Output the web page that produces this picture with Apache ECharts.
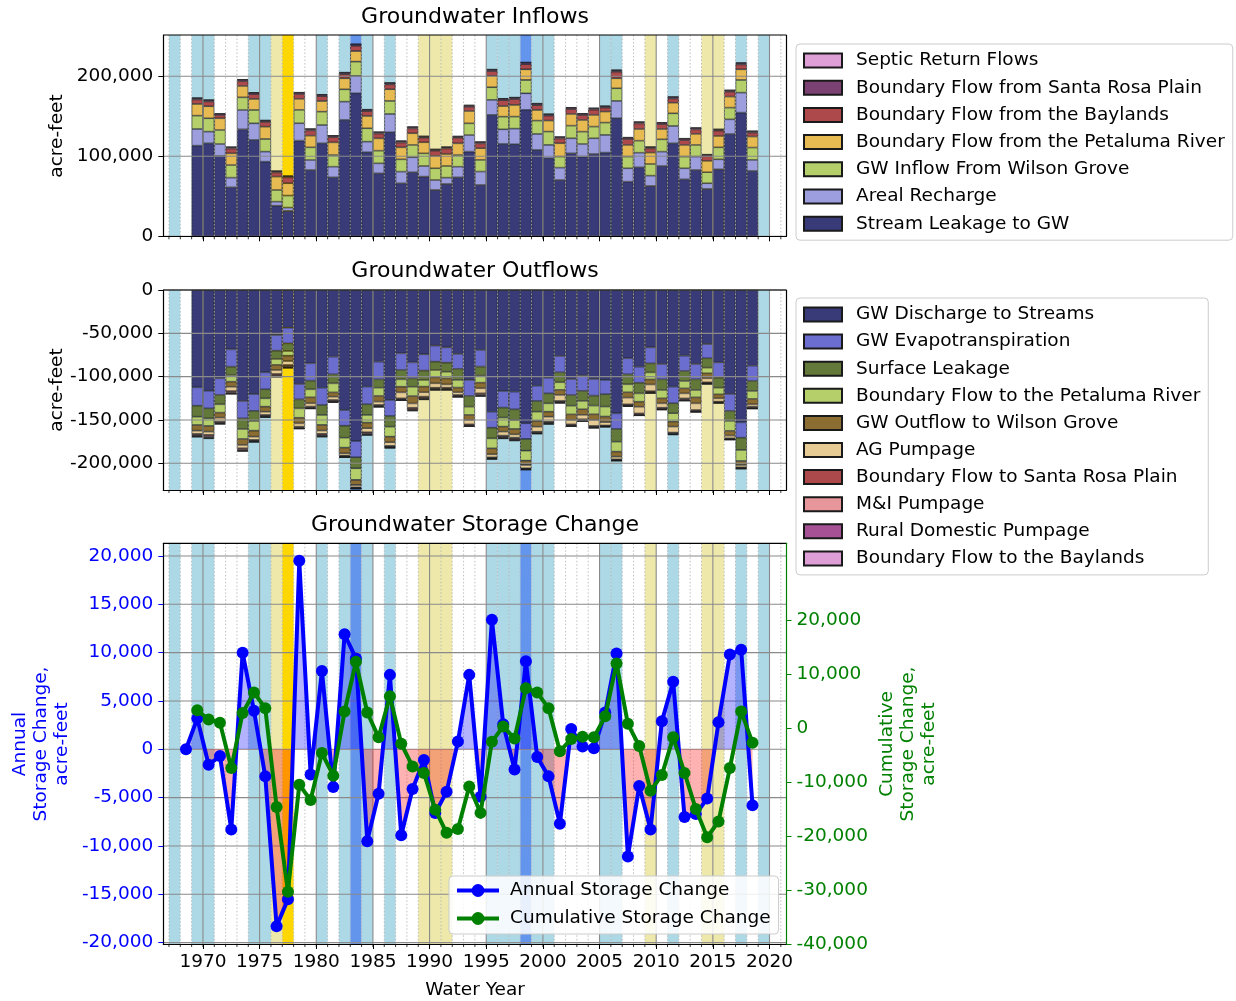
<!DOCTYPE html>
<html>
<head>
<meta charset="utf-8">
<title>Groundwater Budget</title>
<script src="https://cdn.jsdelivr.net/npm/echarts@6.0.0/dist/echarts.min.js"></script>
<style>
html,body{margin:0;padding:0;background:#ffffff;}
#chart{width:1236px;height:1001px;}
</style>
</head>
<body>
<div id="chart"></div>
<script>
// ================= DATA =================
// Bars occupy the slot [year, year+1]
const years = [1969,1970,1971,1972,1973,1974,1975,1976,1977,1978,
               1979,1980,1981,1982,1983,1984,1985,1986,1987,1988,
               1989,1990,1991,1992,1993,1994,1995,1996,1997,1998,
               1999,2000,2001,2002,2003,2004,2005,2006,2007,2008,
               2009,2010,2011,2012,2013,2014,2015,2016,2017,2018];

// ---- Inflows (acre-feet) ----
const streamLeakage = [113300,116200,100400,61200,133700,120400,93300,38300,31700,119600,
                       82900,116200,73700,145400,178700,105000,78700,130000,66200,80000,
                       74600,57900,65400,73700,105800,64200,151700,115400,115000,157900,
                       107900,97500,70400,103700,99600,102900,104600,147500,68300,86200,
                       62900,87900,116200,71200,82900,59200,83700,127900,154600,81700];
const arealRecharge = [20800,14600,15000,12100,24200,20800,12500,5000,4200,21700,
                       12500,22900,13300,22900,21700,13300,12500,22900,14600,18800,
                       13300,12500,7900,13300,20800,16700,18800,18300,19600,20800,
                       20000,16700,15400,18800,15800,19600,22100,21700,16700,18300,
                       12900,17900,21700,13800,16700,7100,12500,18300,25000,13800];
const wilsonGroveIn = [16700,16700,17500,15800,15800,16700,15800,14600,15000,16700,
                       15800,16700,14600,15400,17900,16700,15800,16300,15400,15400,
                       15800,14600,14600,14600,14600,14600,15800,15800,15000,16700,
                       16700,16700,13800,15800,15400,14600,15400,15800,14600,15000,
                       14600,15400,15800,14600,14600,13800,15000,14600,15800,15400];
const petalumaIn = [14600,15000,14600,14600,14200,13800,15400,16700,15400,13800,
                    14600,13300,15800,13800,13300,15400,15400,14600,15000,14600,
                    13800,15400,15000,14600,15400,14600,14200,13300,14600,13300,
                    13300,13800,16700,14600,14600,14600,13800,12500,14600,14600,
                    14200,12900,13300,14600,13800,14200,14200,13800,13300,13800];
const baylandsIn = [5600,6000,4000,6000,6000,6000,6000,5200,7300,6000,
                    6500,6000,6500,5200,6500,6000,6000,6000,6000,6000,
                    5600,6500,6900,6900,5200,6000,6000,7300,7300,6500,
                    6000,6000,6000,6000,6000,6500,4800,8100,7300,6900,
                    5200,6000,5200,6000,5600,6000,6500,6000,6000,4800];
const santaRosaIn = [1800,1800,1700,1800,1900,1800,1800,1700,1700,1800,
                     1800,1900,1800,1900,2000,1900,1800,1900,1800,1800,
                     1800,1700,1700,1700,1800,1800,1900,1900,1900,2000,
                     1900,1900,1800,1800,1800,1800,1900,2000,1800,1800,
                     1700,1800,1900,1800,1800,1700,1700,1800,1900,1800];
const septicIn = [400,400,400,400,400,400,400,400,400,400,
                  500,500,500,500,500,500,500,500,500,500,
                  500,500,500,500,500,500,500,500,500,500,
                  600,600,600,600,600,600,600,600,600,600,
                  600,600,600,600,600,600,600,600,600,600];

// ---- Outflows (acre-feet, negative) ----
const dischargeStreams = [-112300,-116200,-101900,-68500,-128100,-120000,-95000,-51900,-43500,-108500,
                          -84600,-112700,-76900,-138500,-174200,-111500,-82700,-126900,-73100,-83500,
                          -74200,-64200,-66200,-73800,-103800,-69200,-140400,-116500,-117300,-153800,
                          -110400,-101200,-76200,-102700,-98800,-102700,-103800,-142300,-78800,-88500,
                          -66200,-85400,-111500,-75800,-85400,-62300,-83500,-120000,-152700,-87300];
const gwET = [-21200,-20400,-19200,-20000,-20000,-19600,-19600,-18100,-18100,-17700,
              -20000,-20000,-20400,-18100,-18800,-20400,-20400,-18500,-19200,-18500,
              -18800,-18500,-17700,-17300,-18500,-19200,-18500,-19200,-20400,-18100,
              -17700,-18100,-18800,-18500,-17700,-19200,-16500,-18100,-18500,-18500,
              -18500,-17700,-19200,-17700,-17700,-16500,-17700,-19600,-17700,-17700];
const surfaceLeakage = [-12700,-11500,-10800,-9600,-12300,-11500,-10400,-9600,-8800,-10400,
                        -10000,-11500,-10400,-13800,-12700,-12300,-9600,-12300,-10800,-9600,
                        -10800,-9600,-10400,-12700,-12300,-10400,-12300,-11500,-12300,-13500,
                        -12300,-11500,-11500,-12300,-11500,-11500,-14200,-14600,-11500,-12300,
                        -10400,-12300,-11500,-11500,-12300,-10800,-11500,-11500,-14200,-11500];
const petalumaOut = [-9600,-8800,-9600,-7700,-11500,-11200,-9600,-6900,-5400,-10800,
                     -9200,-11500,-10400,-11500,-13500,-8800,-9600,-11500,-8500,-10800,
                     -7700,-8500,-7700,-8800,-9600,-8100,-11500,-10400,-10400,-11500,
                     -10800,-9600,-8800,-10000,-9600,-10000,-11500,-11500,-9200,-9600,
                     -8100,-9600,-9600,-8500,-8500,-6500,-7700,-11500,-12700,-9200];
const wilsonGroveOut = [-6500,-6500,-5800,-5800,-6900,-6900,-5800,-5800,-6200,-6500,
                        -6900,-6500,-5000,-6500,-5800,-6500,-6500,-6500,-6500,-8500,
                        -6500,-6900,-6900,-5400,-5800,-6500,-6900,-5800,-6200,-5000,
                        -6500,-5800,-5800,-6500,-6500,-6500,-6500,-5800,-6200,-5800,
                        -5800,-5800,-5800,-5800,-6900,-5800,-4600,-5400,-4600,-6200];
const agPumpage = [-3800,-3800,-4600,-5000,-3800,-3800,-3800,-4600,-4600,-3800,
                   -3800,-3800,-3800,-2700,-2700,-4600,-3800,-4200,-6900,-5000,
                   -5000,-5000,-3800,-3100,-5000,-5800,-3500,-4600,-3800,-3800,
                   -5800,-5800,-6900,-5000,-5000,-6900,-3800,-3100,-7700,-7700,
                   -7700,-5000,-6900,-5800,-7700,-4600,-3800,-3100,-2700,-2700];
const santaRosaOut = [-1500,-1800,-1200,-1500,-1500,-1100,-1200,-1500,-1500,-1100,
                      -1100,-1500,-1200,-900,-800,-1500,-1100,-1100,-1100,-1500,
                      -1500,-1200,-1200,-1100,-1100,-1500,-900,-1500,-1500,-800,
                      -1100,-1200,-1100,-1100,-1100,-1100,-800,-800,-1100,-1100,
                      -1100,-1100,-1100,-1200,-1100,-900,-800,-800,-800,-1100];
const mniPumpage = [-1100,-1400,-900,-1100,-1100,-800,-900,-1100,-1100,-800,
                    -800,-1100,-900,-700,-600,-1100,-800,-800,-800,-1100,
                    -1100,-900,-900,-800,-800,-1100,-700,-1100,-1100,-600,
                    -800,-900,-800,-800,-800,-800,-600,-600,-800,-800,
                    -800,-800,-800,-900,-800,-700,-600,-600,-600,-800];
const ruralDomestic = [-600,-700,-500,-600,-600,-400,-500,-600,-600,-400,
                       -400,-600,-500,-350,-250,-600,-400,-400,-400,-600,
                       -600,-500,-500,-400,-400,-600,-350,-600,-600,-250,
                       -400,-500,-400,-400,-400,-400,-250,-250,-400,-400,
                       -400,-400,-400,-500,-400,-350,-250,-250,-250,-400];
const baylandsOut = [-600,-700,-500,-600,-600,-400,-500,-600,-600,-400,
                     -400,-600,-500,-350,-250,-600,-400,-400,-400,-600,
                     -600,-500,-500,-400,-400,-600,-350,-600,-600,-250,
                     -400,-500,-400,-400,-400,-400,-250,-250,-400,-400,
                     -400,-400,-400,-500,-400,-350,-250,-250,-250,-400];

// ---- Storage change (acre-feet), points at slot centres ----
const storageYears = [1968,1969,1970,1971,1972,1973,1974,1975,1976,1977,1978,
                      1979,1980,1981,1982,1983,1984,1985,1986,1987,1988,
                      1989,1990,1991,1992,1993,1994,1995,1996,1997,1998,
                      1999,2000,2001,2002,2003,2004,2005,2006,2007,2008,
                      2009,2010,2011,2012,2013,2014,2015,2016,2017,2018];
const annualChange = [0,3200,-1600,-700,-8300,10000,4000,-2800,-18300,-15500,19500,
                      -2600,8100,-3900,11900,9400,-9500,-4600,7700,-8900,-4100,
                      -1100,-6600,-4400,800,7700,-4900,13400,2600,-2100,9100,
                      -800,-2800,-7700,2100,300,100,3800,9900,-11100,-3800,
                      -8300,2900,7000,-7000,-6700,-5100,2800,9800,10300,-5800];
const cumulativeChange = [null,3300,1600,1000,-7400,2800,6600,3700,-14600,-30300,-10500,
                          -13300,-4600,-8800,3100,12300,2900,-1700,5900,-2900,-7100,
                          -8300,-15100,-19400,-18700,-10800,-15700,-2500,300,-1900,7400,
                          6600,3700,-4300,-2000,-1600,-1700,2200,12000,800,-3300,
                          -11600,-8700,-1700,-8300,-15000,-20200,-17300,-7400,3100,-2700];

// ---- Water-year type background bands, slot [year, year+1] ----
const bandYears = [1967,1968,1969,1970,1971,1972,1973,1974,1975,1976,1977,1978,1979,1980,
                   1981,1982,1983,1984,1985,1986,1987,1988,1989,1990,1991,1992,1993,1994,
                   1995,1996,1997,1998,1999,2000,2001,2002,2003,2004,2005,2006,2007,2008,
                   2009,2010,2011,2012,2013,2014,2015,2016,2017,2018,2019];
const bandTypes = ['W','N','W','W','N','N','N','W','W','D','C','N','N','W',
                   'N','W','VW','W','N','W','N','N','D','D','D','N','N','N',
                   'W','W','W','VW','W','W','N','N','N','N','W','W','N','N',
                   'D','N','W','N','N','D','D','N','W','N','W'];

// ---- Tick labels ----
const yearMajorTicks = [1970,1975,1980,1985,1990,1995,2000,2005,2010,2015,2020];
const yearMinorTicks = [1967,1968,1969,1970,1971,1972,1973,1974,1975,1976,1977,1978,1979,1980,
                        1981,1982,1983,1984,1985,1986,1987,1988,1989,1990,1991,1992,1993,1994,
                        1995,1996,1997,1998,1999,2000,2001,2002,2003,2004,2005,2006,2007,2008,
                        2009,2010,2011,2012,2013,2014,2015,2016,2017,2018,2019,2020,2021];
const inflowTicks = [0,100000,200000];
const outflowTicks = [0,-50000,-100000,-150000,-200000];
const annualTicks = [-20000,-15000,-10000,-5000,0,5000,10000,15000,20000];
const cumulativeTicks = [-40000,-30000,-20000,-10000,0,10000,20000];

// ================= STYLE / LAYOUT =================
const FONT = '"DejaVu Sans", "Liberation Sans", sans-serif';
const FS = 18.5;
const X_MIN = 1966.5, X_MAX = 2021.5;
const GRID_LEFT = 163.3, GRID_WIDTH = 623.2;
const gridBoxes = [
  {left: GRID_LEFT, top: 35, width: GRID_WIDTH, height: 201.3},
  {left: GRID_LEFT, top: 290, width: GRID_WIDTH, height: 200},
  {left: GRID_LEFT, top: 543.3, width: GRID_WIDTH, height: 400.7}
];
const yRanges = [[0, 251600], [-230800, 0], [-20140, 21310], [-40000, 34260]];
const slotPx = GRID_WIDTH / (X_MAX - X_MIN);
// hidden category grids that hold exactly the bar slots
const barGridLeft = GRID_LEFT + (years[0] - X_MIN) * slotPx;
const barGridWidth = years.length * slotPx;
const bandColors = {W: '#add8e6', VW: '#6495ed', D: '#eee8aa', C: '#ffd700', N: null};
const fmt = v => Number(v).toLocaleString('en-US');

const inflowDefs = [
  ['Stream Leakage to GW', streamLeakage, '#393b79'],
  ['Areal Recharge', arealRecharge, '#9c9ede'],
  ['GW Inflow From Wilson Grove', wilsonGroveIn, '#b5cf6b'],
  ['Boundary Flow from the Petaluma River', petalumaIn, '#e7ba52'],
  ['Boundary Flow from the Baylands', baylandsIn, '#ad494a'],
  ['Boundary Flow from Santa Rosa Plain', santaRosaIn, '#7b4173'],
  ['Septic Return Flows', septicIn, '#de9ed6']
];
const outflowDefs = [
  ['GW Discharge to Streams', dischargeStreams, '#393b79'],
  ['GW Evapotranspiration', gwET, '#6b6ecf'],
  ['Surface Leakage', surfaceLeakage, '#637939'],
  ['Boundary Flow to the Petaluma River', petalumaOut, '#b5cf6b'],
  ['GW Outflow to Wilson Grove', wilsonGroveOut, '#8c6d31'],
  ['AG Pumpage', agPumpage, '#e7cb94'],
  ['Boundary Flow to Santa Rosa Plain', santaRosaOut, '#ad494a'],
  ['M&I Pumpage', mniPumpage, '#e7969c'],
  ['Rural Domestic Pumpage', ruralDomestic, '#a55194'],
  ['Boundary Flow to the Baylands', baylandsOut, '#de9ed6']
];

function bandSeries(gridIdx, yIdx) {
  return {
    type: 'custom', xAxisIndex: gridIdx, yAxisIndex: yIdx, z: 1, silent: true,
    data: bandYears.map(y => [y, 0]),
    renderItem: function (params, api) {
      const c = bandColors[bandTypes[params.dataIndex]];
      if (!c) return null;
      const cs = params.coordSys;
      const x1 = api.coord([api.value(0), 0])[0];
      const x2 = api.coord([api.value(0) + 1, 0])[0];
      return {type: 'rect', shape: {x: x1, y: cs.y, width: x2 - x1, height: cs.height},
              style: {fill: c}};
    }
  };
}

function gridSeries(gridIdx, yIdx, yTicks, rightBorder) {
  return {
    type: 'custom', xAxisIndex: gridIdx, yAxisIndex: yIdx, z: 3, silent: true,
    data: [[1990, 0]],
    renderItem: function (params, api) {
      const cs = params.coordSys;
      const top = cs.y, bot = cs.y + cs.height, left = cs.x, right = cs.x + cs.width;
      const ch = [];
      yearMinorTicks.forEach(yr => {
        const x = api.coord([yr, 0])[0];
        ch.push({type: 'line', shape: {x1: x, y1: bot, x2: x, y2: bot + 3},
                 style: {stroke: '#000', lineWidth: 0.8}});
        if (yearMajorTicks.indexOf(yr) >= 0) return;
        ch.push({type: 'line', shape: {x1: x, y1: top, x2: x, y2: bot},
                 style: {stroke: '#b0b0b0', lineWidth: 0.8, lineDash: [1.5, 2]}});
      });
      yearMajorTicks.forEach(yr => {
        const x = api.coord([yr, 0])[0];
        ch.push({type: 'line', shape: {x1: x, y1: top, x2: x, y2: bot},
                 style: {stroke: '#8a8a8a', lineWidth: 1.1}});
      });
      yTicks.forEach(v => {
        const y = api.coord([1990, v])[1];
        ch.push({type: 'line', shape: {x1: left, y1: y, x2: right, y2: y},
                 style: {stroke: '#8a8a8a', lineWidth: 1.1}});
      });
      ch.push({type: 'line', shape: {x1: left, y1: top, x2: right, y2: top},
               style: {stroke: '#000', lineWidth: 1.2}});
      if (rightBorder) {
        ch.push({type: 'line', shape: {x1: right, y1: top, x2: right, y2: bot},
                 style: {stroke: '#000', lineWidth: 1.2}});
      }
      return {type: 'group', children: ch};
    }
  };
}

const series = [];
series.push(bandSeries(0, 0));
inflowDefs.forEach(d => series.push({
  type: 'bar', name: d[0], xAxisIndex: 3, yAxisIndex: 4, stack: 'inflow', z: 2,
  barWidth: '100%', barCategoryGap: 0,
  data: d[1],
  itemStyle: {color: d[2], borderColor: '#1a1a1a', borderWidth: 0.6}
}));
series.push(gridSeries(0, 0, inflowTicks, true));

series.push(bandSeries(1, 1));
outflowDefs.forEach(d => series.push({
  type: 'bar', name: d[0], xAxisIndex: 4, yAxisIndex: 5, stack: 'outflow', z: 2,
  barWidth: '100%', barCategoryGap: 0,
  data: d[1],
  itemStyle: {color: d[2], borderColor: '#1a1a1a', borderWidth: 0.6}
}));
series.push(gridSeries(1, 1, outflowTicks, true));

series.push(bandSeries(2, 2));
series.push(gridSeries(2, 2, annualTicks, false));

const g3 = gridBoxes[2];
const zeroY = g3.top + g3.height * (yRanges[2][1] - 0) / (yRanges[2][1] - yRanges[2][0]);
const fillPos = 'rgba(0,0,255,0.3)', fillNeg = 'rgba(255,0,0,0.3)';
series.push({
  type: 'line', name: 'Annual Storage Change', xAxisIndex: 2, yAxisIndex: 2, z: 4,
  data: storageYears.map((y, i) => [y + 0.5, annualChange[i]]),
  symbol: 'circle', symbolSize: 12, showAllSymbol: true,
  lineStyle: {color: '#0000ff', width: 4},
  itemStyle: {color: '#0000ff'},
  areaStyle: {origin: 'auto', opacity: 1, color: {
    type: 'linear', x: 0, y: zeroY - 1, x2: 0, y2: zeroY + 1, global: true,
    colorStops: [{offset: 0, color: fillPos}, {offset: 0.5, color: fillPos},
                 {offset: 0.5, color: fillNeg}, {offset: 1, color: fillNeg}]
  }}
});
series.push({
  type: 'line', name: 'Cumulative Storage Change', xAxisIndex: 2, yAxisIndex: 3, z: 5,
  data: storageYears.map((y, i) => [y + 0.5, cumulativeChange[i]]),
  symbol: 'circle', symbolSize: 12, showAllSymbol: true, connectNulls: false,
  lineStyle: {color: '#008000', width: 4},
  itemStyle: {color: '#008000'}
});

function xAxisDef(i) {
  return {
    type: 'value', gridIndex: i, min: X_MIN, max: X_MAX, z: 10,
    axisLine: {show: true, onZero: false, lineStyle: {color: '#000', width: 1.2}},
    axisTick: {show: true, customValues: yearMajorTicks, length: 5, lineStyle: {color: '#000', width: 1}},
    axisLabel: {show: i === 2, customValues: yearMajorTicks, formatter: v => String(v), margin: 9,
                color: '#000', fontSize: FS, fontFamily: FONT},
    splitLine: {show: false}, minorSplitLine: {show: false}
  };
}
function hiddenCatX(gridIdx) {
  return {type: 'category', gridIndex: gridIdx, data: years.map(String), boundaryGap: true, show: false};
}
function yAxisDef(gridIdx, range, ticks, color, pos, lineColor) {
  return {
    type: 'value', gridIndex: gridIdx, min: range[0], max: range[1], z: 10, position: pos,
    axisLine: {show: true, onZero: false, lineStyle: {color: lineColor, width: 1.2}},
    axisTick: {show: true, customValues: ticks, length: 5, lineStyle: {color: color, width: 1}},
    axisLabel: {customValues: ticks, formatter: fmt, margin: 10, color: color,
                fontSize: FS, fontFamily: FONT},
    splitLine: {show: false}
  };
}
function hiddenY(gridIdx, range) {
  return {type: 'value', gridIndex: gridIdx, min: range[0], max: range[1], show: false, splitLine: {show: false}};
}

const legendBase = {
  orient: 'vertical', itemWidth: 38, itemHeight: 14, z: 20, icon: 'rect',
  backgroundColor: 'rgba(255,255,255,0.85)', borderColor: '#cccccc', borderWidth: 1, borderRadius: 4,
  textStyle: {fontSize: FS, fontFamily: FONT, color: '#000', lineHeight: 21, padding: [0, 0, 0, 9]},
  selectedMode: false
};

const option = {
  animation: false,
  backgroundColor: '#ffffff',
  textStyle: {fontFamily: FONT},
  grid: gridBoxes.map(g => ({left: g.left, top: g.top, width: g.width, height: g.height, containLabel: false}))
    .concat([
      {left: barGridLeft, top: gridBoxes[0].top, width: barGridWidth, height: gridBoxes[0].height, containLabel: false},
      {left: barGridLeft, top: gridBoxes[1].top, width: barGridWidth, height: gridBoxes[1].height, containLabel: false}
    ]),
  xAxis: [xAxisDef(0), xAxisDef(1), xAxisDef(2), hiddenCatX(3), hiddenCatX(4)],
  yAxis: [
    yAxisDef(0, yRanges[0], inflowTicks, '#000', 'left', '#000'),
    yAxisDef(1, yRanges[1], outflowTicks, '#000', 'left', '#000'),
    yAxisDef(2, yRanges[2], annualTicks, '#0000ff', 'left', '#000'),
    yAxisDef(2, yRanges[3], cumulativeTicks, '#008000', 'right', '#008000'),
    hiddenY(3, yRanges[0]),
    hiddenY(4, yRanges[1])
  ],
  legend: [
    Object.assign({}, legendBase, {left: 796, top: 44, padding: [6, 8, 6, 7], itemGap: 6.2,
      data: inflowDefs.map(d => d[0]).reverse()}),
    Object.assign({}, legendBase, {left: 796, top: 298, padding: [6, 8, 6, 7], itemGap: 6.1,
      data: outflowDefs.map(d => d[0])}),
    Object.assign({}, legendBase, {left: 449, top: 876, padding: [4, 8, 5, 6], itemGap: 7,
      itemWidth: 42, itemHeight: 16, icon: null,
      lineStyle: {width: 4},
      itemStyle: {borderWidth: 0},
      textStyle: Object.assign({}, legendBase.textStyle, {padding: [0, 0, 0, 6]}),
      data: ['Annual Storage Change', 'Cumulative Storage Change']})
  ],
  graphic: [
    {type: 'text', x: 475, y: 17, style: {text: 'Groundwater Inflows', font: '22px ' + FONT, fill: '#000', align: 'center', verticalAlign: 'middle', textAlign: 'center', textVerticalAlign: 'middle'}},
    {type: 'text', x: 475, y: 271, style: {text: 'Groundwater Outflows', font: '22px ' + FONT, fill: '#000', align: 'center', verticalAlign: 'middle', textAlign: 'center', textVerticalAlign: 'middle'}},
    {type: 'text', x: 475, y: 525, style: {text: 'Groundwater Storage Change', font: '22px ' + FONT, fill: '#000', align: 'center', verticalAlign: 'middle', textAlign: 'center', textVerticalAlign: 'middle'}},
    {type: 'text', x: 57, y: 136, rotation: Math.PI / 2, style: {text: 'acre-feet', font: FS + 'px ' + FONT, fill: '#000', align: 'center', verticalAlign: 'middle', textAlign: 'center', textVerticalAlign: 'middle'}},
    {type: 'text', x: 57, y: 390, rotation: Math.PI / 2, style: {text: 'acre-feet', font: FS + 'px ' + FONT, fill: '#000', align: 'center', verticalAlign: 'middle', textAlign: 'center', textVerticalAlign: 'middle'}},
    {type: 'text', x: 41, y: 744, rotation: Math.PI / 2, style: {text: 'Annual\nStorage Change,\nacre-feet', font: FS + 'px ' + FONT, lineHeight: 21, fill: '#0000ff', align: 'center', verticalAlign: 'middle', textAlign: 'center', textVerticalAlign: 'middle'}},
    {type: 'text', x: 908, y: 744, rotation: Math.PI / 2, style: {text: 'Cumulative\nStorage Change,\nacre-feet', font: FS + 'px ' + FONT, lineHeight: 21, fill: '#008000', align: 'center', verticalAlign: 'middle', textAlign: 'center', textVerticalAlign: 'middle'}},
    {type: 'text', x: 475, y: 990, style: {text: 'Water Year', font: FS + 'px ' + FONT, fill: '#000', align: 'center', verticalAlign: 'middle', textAlign: 'center', textVerticalAlign: 'middle'}}
  ],
  series: series
};

const chart = echarts.init(document.getElementById('chart'), null, {renderer: 'canvas', width: 1236, height: 1001});
chart.setOption(option);
</script>
</body>
</html>
